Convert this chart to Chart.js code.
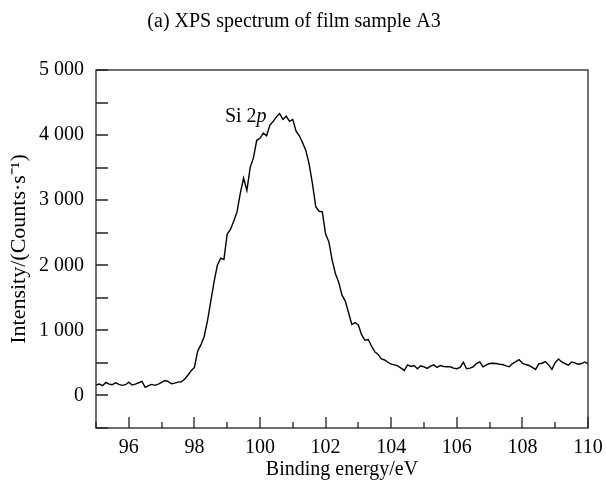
<!DOCTYPE html>
<html>
<head>
<meta charset="utf-8">
<script src="https://cdn.jsdelivr.net/npm/chart.js@4.4.1/dist/chart.umd.min.js"></script>
<style>
  html, body { margin: 0; padding: 0; background: #fff; }
</style>
</head>
<body>
<canvas id="myChart" width="606" height="482"></canvas>
<script>
// binding energy (eV), 0.1 eV steps
var energy = [
    95.0, 95.1, 95.2, 95.3, 95.4, 95.5, 95.6, 95.7, 95.8, 95.9,
    96.0, 96.1, 96.2, 96.3, 96.4, 96.5, 96.6, 96.7, 96.8, 96.9,
    97.0, 97.1, 97.2, 97.3, 97.4, 97.5, 97.6, 97.7, 97.8, 97.9,
    98.0, 98.1, 98.2, 98.3, 98.4, 98.5, 98.6, 98.7, 98.8, 98.9,
    99.0, 99.1, 99.2, 99.3, 99.4, 99.5, 99.6, 99.7, 99.8, 99.9,
    100.0, 100.1, 100.2, 100.3, 100.4, 100.5, 100.6, 100.7, 100.8, 100.9,
    101.0, 101.1, 101.2, 101.3, 101.4, 101.5, 101.6, 101.7, 101.8, 101.9,
    102.0, 102.1, 102.2, 102.3, 102.4, 102.5, 102.6, 102.7, 102.8, 102.9,
    103.0, 103.1, 103.2, 103.3, 103.4, 103.5, 103.6, 103.7, 103.8, 103.9,
    104.0, 104.1, 104.2, 104.3, 104.4, 104.5, 104.6, 104.7, 104.8, 104.9,
    105.0, 105.1, 105.2, 105.3, 105.4, 105.5, 105.6, 105.7, 105.8, 105.9,
    106.0, 106.1, 106.2, 106.3, 106.4, 106.5, 106.6, 106.7, 106.8, 106.9,
    107.0, 107.1, 107.2, 107.3, 107.4, 107.5, 107.6, 107.7, 107.8, 107.9,
    108.0, 108.1, 108.2, 108.3, 108.4, 108.5, 108.6, 108.7, 108.8, 108.9,
    109.0, 109.1, 109.2, 109.3, 109.4, 109.5, 109.6, 109.7, 109.8, 109.9,
    110.0
];
// counts per second
var intensity = [
    160, 175, 150, 200, 175, 165, 195, 170, 155, 165,
    205, 160, 175, 195, 215, 125, 150, 170, 155, 175,
    200, 230, 215, 180, 190, 205, 210, 250, 310, 380,
    430, 680, 780, 910, 1150, 1450, 1750, 2000, 2110, 2090,
    2480, 2550, 2680, 2820, 3110, 3340, 3150, 3500, 3650, 3920,
    3950, 4030, 3990, 4150, 4210, 4280, 4330, 4240, 4290, 4210,
    4240, 4060, 3990, 3880, 3760, 3550, 3250, 2900, 2830, 2820,
    2480, 2360, 2080, 1870, 1740, 1540, 1450, 1270, 1090, 1120,
    1080, 930, 850, 860, 760, 670, 630, 560, 545, 510,
    480, 470, 455, 420, 385, 470, 445, 460, 410, 455,
    440, 415, 450, 470, 430, 460, 445, 440, 440, 420,
    410, 430, 510, 410, 420, 440, 490, 515, 440, 470,
    490, 495, 490, 480, 475, 455, 440, 490, 520, 550,
    495, 475, 460, 430, 400, 485, 495, 520, 470, 400,
    505, 560, 515, 490, 465, 515, 500, 480, 490, 515,
    485
];
var xLabels = [96, 98, 100, 102, 104, 106, 108, 110];
var xMinor = [95, 97, 99, 101, 103, 105, 107, 109];
var yLabels = [0, 1000, 2000, 3000, 4000, 5000];
var yMinor = [-500, 500, 1500, 2500, 3500, 4500];

var serif = "'Liberation Serif', 'Times New Roman', serif";

var points = energy.map(function (e, i) {
    return { x: e, y: intensity[i] };
});

// box, inward ticks and the peak label
var framePlugin = {
    id: 'frame',
    afterDraw: function (chart) {
        var c = chart.ctx;
        var a = chart.chartArea;
        var xs = chart.scales.x;
        var ys = chart.scales.y;
        c.save();
        c.strokeStyle = '#222';
        c.lineWidth = 1.3;
        c.strokeRect(a.left, a.top, a.right - a.left, a.bottom - a.top);
        c.beginPath();
        xLabels.forEach(function (v) {
            var px = Math.round(xs.getPixelForValue(v));
            c.moveTo(px, a.bottom); c.lineTo(px, a.bottom - 11);
        });
        xMinor.forEach(function (v) {
            var px = Math.round(xs.getPixelForValue(v));
            c.moveTo(px, a.bottom); c.lineTo(px, a.bottom - 6);
        });
        yLabels.concat(yMinor).forEach(function (v) {
            var py = Math.round(ys.getPixelForValue(v));
            c.moveTo(a.left, py); c.lineTo(a.left + 12, py);
        });
        c.stroke();

        // "Si 2p" with italic p
        var lx = xs.getPixelForValue(98.93);
        var ly = ys.getPixelForValue(4200);
        c.fillStyle = '#000';
        c.textBaseline = 'alphabetic';
        c.textAlign = 'left';
        c.font = '20px ' + serif;
        c.fillText('Si 2', lx, ly);
        var w = c.measureText('Si 2').width;
        c.font = 'italic 20px ' + serif;
        c.fillText('p', lx + w, ly);
        c.restore();
    }
};

var ctx = document.getElementById('myChart').getContext('2d');

var myChart = new Chart(ctx, {
    type: 'line',
    data: {
        datasets: [{
            label: 'Si 2p',
            data: points,
            borderColor: '#000',
            borderWidth: 1.4,
            pointRadius: 0,
            tension: 0,
            fill: false
        }]
    },
    options: {
        responsive: false,
        animation: false,
        layout: { padding: { left: 0, right: 18, top: 0, bottom: 0 } },
        plugins: {
            legend: { display: false },
            tooltip: { enabled: false },
            title: {
                display: true,
                text: '(a) XPS spectrum of film sample A3',
                color: '#000',
                font: { family: serif, size: 20, weight: 'normal' },
                padding: { top: 10, bottom: 36 }
            }
        },
        scales: {
            x: {
                type: 'linear',
                min: 95,
                max: 110,
                afterBuildTicks: function (s) {
                    s.ticks = xLabels.map(function (v) { return { value: v }; });
                },
                afterFit: function (s) {
                    s.height = 54;
                    s.paddingLeft = 0;
                    s.paddingRight = 0;
                },
                grid: { display: false, drawTicks: false },
                border: { display: false },
                ticks: {
                    color: '#000',
                    padding: 8,
                    maxRotation: 0,
                    autoSkip: false,
                    font: { family: serif, size: 20 }
                },
                title: {
                    display: true,
                    text: 'Binding energy/eV',
                    color: '#000',
                    font: { family: serif, size: 20 },
                    padding: { top: 0, bottom: 0 }
                }
            },
            y: {
                min: -500,
                max: 5000,
                afterBuildTicks: function (s) {
                    s.ticks = yLabels.map(function (v) { return { value: v }; });
                },
                afterFit: function (s) {
                    s.width = 96;
                    s.paddingTop = 0;
                    s.paddingBottom = 0;
                },
                grid: { display: false, drawTicks: false },
                border: { display: false },
                ticks: {
                    color: '#000',
                    padding: 12,
                    autoSkip: false,
                    font: { family: serif, size: 20 },
                    callback: function (v) {
                        return v === 0 ? '0' : (v / 1000) + ' 000';
                    }
                },
                title: {
                    display: true,
                    text: 'Intensity/(Counts·s⁻¹)',
                    color: '#000',
                    font: { family: serif, size: 22 },
                    padding: { top: 6, bottom: 0 }
                }
            }
        }
    },
    plugins: [framePlugin]
});
</script>
</body>
</html>
